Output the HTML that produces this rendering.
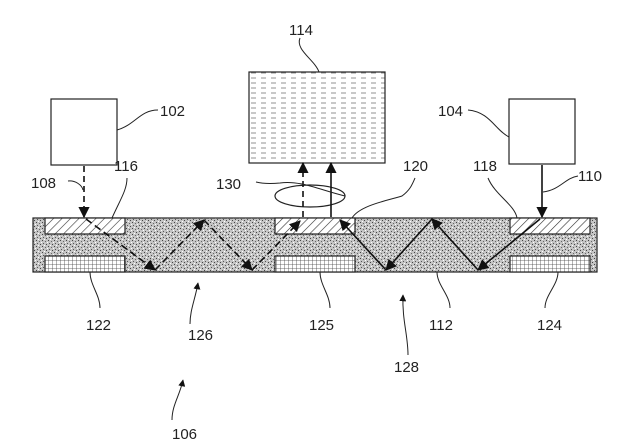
<!DOCTYPE html>
<html><head><meta charset="utf-8"><style>body{margin:0;background:#fff}svg{display:block}text{font-family:"Liberation Sans",sans-serif;font-size:15px;fill:#222}</style></head><body>
<svg width="637" height="448" viewBox="0 0 637 448" xmlns="http://www.w3.org/2000/svg">
<defs>
<pattern id="st" width="6" height="6" patternUnits="userSpaceOnUse">
<rect width="6" height="6" fill="#c4c4c4"/>
<rect x="0" y="0" width="1" height="1" fill="#444"/><rect x="3" y="1" width="1" height="1" fill="#666"/>
<rect x="1" y="3" width="1" height="1" fill="#555"/><rect x="4" y="4" width="1" height="1" fill="#444"/>
<rect x="5" y="2" width="1" height="1" fill="#fff"/><rect x="2" y="5" width="1" height="1" fill="#fff"/>
</pattern>
<pattern id="ha" width="6" height="6" patternUnits="userSpaceOnUse" patternTransform="rotate(45)">
<rect width="6" height="6" fill="#fff"/><line x1="0" y1="0" x2="0" y2="6" stroke="#333" stroke-width="1.2"/>
</pattern>
<pattern id="gr" width="4" height="4" patternUnits="userSpaceOnUse">
<rect width="4" height="4" fill="#fff"/><path d="M0 0H4M0 0V4" stroke="#444" stroke-width="0.8"/>
</pattern>
<pattern id="ln" width="10" height="5" patternUnits="userSpaceOnUse">
<rect width="10" height="5" fill="#fff"/><line x1="1" y1="3" x2="6" y2="3" stroke="#777" stroke-width="0.8"/>
</pattern>
<marker id="ar" viewBox="0 0 10 10" refX="9" refY="5" markerWidth="7" markerHeight="7" orient="auto-start-reverse"><path d="M0 0L10 5L0 10z" fill="#111"/></marker>
</defs>
<g stroke="#222" stroke-width="1.2">
<rect x="51" y="99" width="66" height="66" fill="#fff"/>
<rect x="509" y="99" width="66" height="65" fill="#fff"/>
<rect x="249" y="72" width="136" height="91" fill="url(#ln)"/>
<rect x="33" y="218" width="564" height="54" fill="url(#st)"/>
<rect x="45" y="218" width="80" height="16" fill="url(#ha)"/>
<rect x="275" y="218" width="80" height="16" fill="url(#ha)"/>
<rect x="510" y="218" width="80" height="16" fill="url(#ha)"/>
<rect x="45" y="256" width="80" height="16" fill="url(#gr)"/>
<rect x="275" y="256" width="80" height="16" fill="url(#gr)"/>
<rect x="510" y="256" width="80" height="16" fill="url(#gr)"/>
<ellipse cx="310" cy="196" rx="35" ry="11" fill="none"/>
</g>
<g fill="none" stroke="#111" stroke-width="1.6">
<line x1="84" y1="166" x2="84" y2="217" stroke-dasharray="6,4" marker-end="url(#ar)"/>
<path d="M86 219L155 270" stroke-dasharray="7,4" marker-end="url(#ar)"/>
<path d="M155 270L204 220" stroke-dasharray="7,4" marker-end="url(#ar)"/>
<path d="M204 220L252 270" stroke-dasharray="7,4" marker-end="url(#ar)"/>
<path d="M252 270L300 221" stroke-dasharray="7,4" marker-end="url(#ar)"/>
<line x1="303" y1="217" x2="303" y2="163" stroke-dasharray="6,4" marker-end="url(#ar)"/>
<line x1="331" y1="217" x2="331" y2="163" marker-end="url(#ar)"/>
<line x1="542" y1="165" x2="542" y2="217" marker-end="url(#ar)"/>
<path d="M540 219L478 270" marker-end="url(#ar)"/>
<path d="M478 270L432 219" marker-end="url(#ar)"/>
<path d="M432 219L386 270" marker-end="url(#ar)"/>
<path d="M386 270L340 220" marker-end="url(#ar)"/>
</g>
<g fill="none" stroke="#222" stroke-width="1">
<path d="M300 38C295 50 315 60 319 72"/>
<path d="M117 130C135 125 140 110 158 110"/>
<path d="M509 137C495 130 490 112 468 110"/>
<path d="M112 218C120 200 127 190 127 178"/>
<path d="M352 218C360 205 390 200 402 196 410 190 412 185 415 178"/>
<path d="M517 218C515 205 495 195 488 178"/>
<path d="M68 181C75 180 82 185 83 190"/>
<path d="M543 192C560 190 565 178 578 176"/>
<path d="M345 196C320 190 300 180 280 183 268 184 260 183 256 182"/>
<path d="M90 272C90 285 100 295 100 308"/>
<path d="M320 272C320 285 330 295 330 308"/>
<path d="M437 272C437 285 450 295 450 308"/>
<path d="M558 272C558 285 545 295 545 308"/>
<path d="M190 324C190 310 195 300 198 283" marker-end="url(#ar)"/>
<path d="M408 355C408 335 402 320 403 295" marker-end="url(#ar)"/>
<path d="M172 420C172 405 180 395 183 380" marker-end="url(#ar)"/>
</g>
<text x="289" y="35">114</text>
<text x="160" y="116">102</text>
<text x="438" y="116">104</text>
<text x="114" y="171">116</text>
<text x="403" y="171">120</text>
<text x="473" y="171">118</text>
<text x="31" y="188">108</text>
<text x="578" y="181">110</text>
<text x="216" y="189">130</text>
<text x="86" y="330">122</text>
<text x="188" y="340">126</text>
<text x="309" y="330">125</text>
<text x="429" y="330">112</text>
<text x="537" y="330">124</text>
<text x="394" y="372">128</text>
<text x="172" y="439">106</text>
</svg>
</body></html>
